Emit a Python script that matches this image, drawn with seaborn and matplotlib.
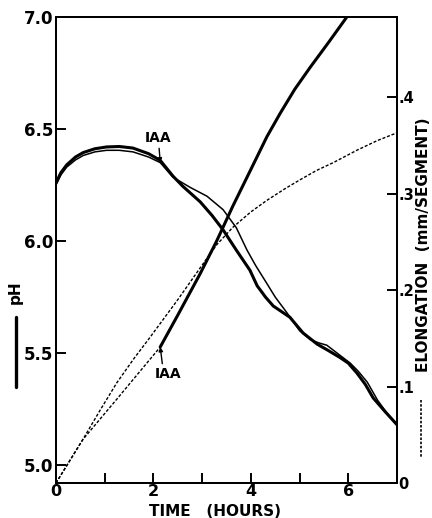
import numpy as np
import pandas as pd
import seaborn as sns
import matplotlib.pyplot as plt
from matplotlib.lines import Line2D

# pH curves (left axis)
ph_iaa_t = [0, 0.1, 0.22, 0.4, 0.56, 0.8, 1.04, 1.3, 1.58, 1.9, 2.14, 2.4, 2.6, 2.96, 3.2, 3.43,
            3.7, 3.98, 4.13, 4.3, 4.46, 4.8, 5.07, 5.36, 5.6, 5.83, 6.0, 6.18, 6.35, 6.51, 6.75, 7.0]
ph_iaa = [6.26, 6.305, 6.34, 6.375, 6.395, 6.412, 6.42, 6.422, 6.415, 6.39, 6.36, 6.29, 6.245, 6.175, 6.115, 6.05,
          5.96, 5.87, 5.80, 5.75, 5.71, 5.66, 5.59, 5.54, 5.51, 5.48, 5.455, 5.41, 5.36, 5.30, 5.24, 5.18]
ph_ctl_t = [0, 0.1, 0.22, 0.4, 0.56, 0.8, 1.04, 1.3, 1.58, 1.9, 2.14, 2.4, 2.75, 3.1, 3.43, 3.7,
            3.92, 4.1, 4.33, 4.5, 4.74, 5.0, 5.22, 5.4, 5.56, 5.77, 6.04, 6.2, 6.39, 6.6, 6.8, 7.0]
ph_ctl = [6.25, 6.295, 6.33, 6.362, 6.382, 6.398, 6.405, 6.405, 6.398, 6.375, 6.35, 6.285, 6.24, 6.20, 6.14, 6.06,
          5.96, 5.89, 5.81, 5.75, 5.68, 5.60, 5.56, 5.545, 5.535, 5.50, 5.455, 5.42, 5.37, 5.29, 5.23, 5.18]

# elongation curves (right axis)
el_ctl_t = [0, 0.55, 0.9, 1.25, 1.6, 1.93, 2.5, 2.96, 3.3, 3.63, 4.0, 4.33, 4.7, 5.0, 5.35, 5.69, 6.18, 6.6, 7.0]
el_ctl = [0, 0.045, 0.075, 0.104, 0.129, 0.151, 0.19, 0.223, 0.247, 0.265, 0.281, 0.293, 0.305, 0.314,
          0.324, 0.332, 0.345, 0.355, 0.363]
el_iaa_pre_t = [0, 0.55, 1.25, 2.14]
el_iaa_pre = [0, 0.045, 0.087, 0.141]
el_iaa_t = [2.14, 2.5, 2.96, 3.3, 3.63, 4.0, 4.33, 4.6, 4.9, 5.22, 5.6, 5.97]
el_iaa = [0.141, 0.174, 0.217, 0.251, 0.287, 0.325, 0.359, 0.383, 0.408, 0.431, 0.457, 0.483]

sns.set_style("ticks")
plt.rcParams['font.family'] = ['DejaVu Sans']
plt.rcParams['font.weight'] = 'bold'
for key in ['text.color', 'axes.labelcolor', 'xtick.color', 'ytick.color', 'axes.edgecolor']:
    plt.rcParams[key] = 'black'

fig = plt.figure(figsize=(4.32, 5.18), dpi=100)
ax = fig.add_axes([56/432, 35/518, 341/432, 466/518])
ax2 = ax.twinx()

k = dict(color='black', sort=False, estimator=None)
sns.lineplot(data=pd.DataFrame({'t': ph_iaa_t, 'ph': ph_iaa}), x='t', y='ph', ax=ax, lw=2.2, **k)
sns.lineplot(data=pd.DataFrame({'t': ph_ctl_t, 'ph': ph_ctl}), x='t', y='ph', ax=ax, lw=1.1, **k)

dash = (0, (2.2, 1.3))
sns.lineplot(data=pd.DataFrame({'t': el_ctl_t, 'e': el_ctl}), x='t', y='e', ax=ax2, lw=1.0, linestyle=dash, **k)
sns.lineplot(data=pd.DataFrame({'t': el_iaa_pre_t, 'e': el_iaa_pre}), x='t', y='e', ax=ax2, lw=1.0, linestyle=dash, **k)
sns.lineplot(data=pd.DataFrame({'t': el_iaa_t, 'e': el_iaa}), x='t', y='e', ax=ax2, lw=2.2, **k)

ax.set_xlim(0, 7)
ax.set_ylim(4.92, 7.0)
ax2.set_ylim(0, 0.483)

ax.set_xticks(range(8))
ax.set_xticklabels(['0', '', '2', '', '4', '', '6', ''])
ax.set_yticks([5.0, 5.5, 6.0, 6.5, 7.0])
ax.set_yticklabels(['5.0', '5.5', '6.0', '6.5', '7.0'])
ax2.set_yticks([0, 0.1, 0.2, 0.3, 0.4])
ax2.set_yticklabels(['0', '.1', '.2', '.3', '.4'])

for a in (ax, ax2):
    a.set_xlabel('')
    a.set_ylabel('')
    for s in a.spines.values():
        s.set_visible(True)
        s.set_linewidth(1.4)
        s.set_color('black')
    a.tick_params(direction='in', length=7, width=1.4, labelsize=12, pad=2, colors='black')
ax.tick_params(axis='x', labelsize=11.5, pad=1)
ax2.tick_params(labelsize=10.5, pad=1)

fig.text(215/432, 1 - 511/518, 'TIME   (HOURS)', ha='center', va='center', fontsize=11, fontweight='bold')

# IAA labels
ax.annotate('IAA', xy=(2.14, 6.35), xytext=(2.1, 6.46), ha='center', va='center', fontsize=10,
            fontweight='bold', arrowprops=dict(arrowstyle='-|>', color='black', lw=1, mutation_scale=6,
                                               shrinkA=0, shrinkB=0))
ax2.annotate('IAA', xy=(2.14, 0.141), xytext=(2.3, 0.113), ha='center', va='center', fontsize=10,
             fontweight='bold', arrowprops=dict(arrowstyle='-|>', color='black', lw=1, mutation_scale=6,
                                                shrinkA=0, shrinkB=0, relpos=(0.3, 1.0)))

# axis titles with line keys
fig.text(15/432, 1 - 292/518, 'pH', rotation=90, ha='center', va='center', fontsize=11, fontweight='bold')
fig.add_artist(Line2D([16/432, 16/432], [1 - 317/518, 1 - 387/518], color='black', lw=2.4))
fig.text(423/432, 1 - 245/518, 'ELONGATION  (mm/SEGMENT)', rotation=90, ha='center', va='center',
         fontsize=11, fontweight='bold')
fig.add_artist(Line2D([421/432, 421/432], [1 - 400/518, 1 - 457/518], color='black', lw=1.2,
                      linestyle=(0, (1.5, 1))))

fig.savefig('out.png', dpi=100)
